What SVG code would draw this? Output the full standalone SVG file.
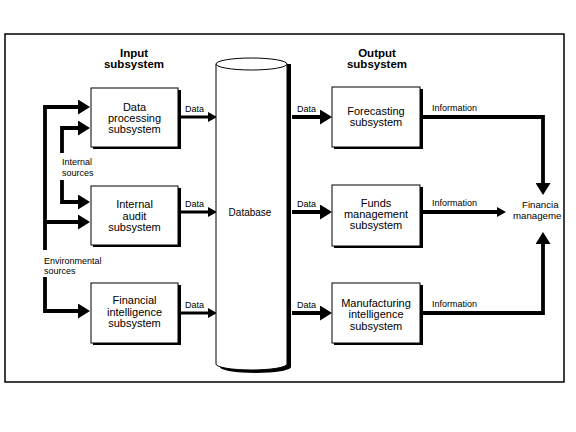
<svg xmlns="http://www.w3.org/2000/svg" width="576" height="432" viewBox="0 0 576 432">
<style>
text{font-family:"Liberation Sans",Arial,Helvetica,sans-serif;fill:#000}
.t{font-size:11px;text-anchor:middle}
.h{font-size:11.5px;font-weight:bold;text-anchor:middle}
.s{font-size:9px}
.ln{fill:none;stroke:#000;stroke-linejoin:miter}
.w3{stroke-width:3}
.w4{stroke-width:3.8}
.box{fill:#fff;stroke:#000;stroke-width:1}
.sh{fill:#000}
</style>
<defs>
<marker id="big" viewBox="0 0 12 15" refX="6" refY="7.5" markerWidth="12" markerHeight="15" markerUnits="userSpaceOnUse" orient="auto">
<path d="M0,0 L12,7.5 L0,15 Z" fill="#000"/>
</marker>
<marker id="small" viewBox="0 0 9 10" refX="4" refY="5" markerWidth="9" markerHeight="10" markerUnits="userSpaceOnUse" orient="auto">
<path d="M0,0 L9,5 L0,10 Z" fill="#000"/>
</marker>
</defs>
<rect width="576" height="432" fill="#fff"/>
<rect x="5" y="34" width="559" height="348" fill="none" stroke="#000" stroke-width="1.5"/>

<text class="h" x="134" y="57">Input</text>
<text class="h" x="134" y="68">subsystem</text>
<text class="h" x="377" y="57">Output</text>
<text class="h" x="377" y="68">subsystem</text>

<g id="connectors">
<path class="ln w4" d="M45,250 L45,107 L84,107" marker-end="url(#big)"/>
<path class="ln w4" d="M45,222 L84,222" marker-end="url(#big)"/>
<path class="ln w4" d="M45,277 L45,311 L84,311" marker-end="url(#big)"/>
<path class="ln w4" d="M62,153 L62,128 L84,128" marker-end="url(#big)"/>
<path class="ln w4" d="M62,180 L62,202 L84,202" marker-end="url(#big)"/>
<path class="ln w3" d="M179,117 L212,117" marker-end="url(#small)"/>
<path class="ln w3" d="M179,212 L212,212" marker-end="url(#small)"/>
<path class="ln w3" d="M179,313 L212,313" marker-end="url(#small)"/>
<path class="ln w4" d="M292,117 L326,117" marker-end="url(#big)"/>
<path class="ln w4" d="M292,212 L326,212" marker-end="url(#big)"/>
<path class="ln w4" d="M292,313 L326,313" marker-end="url(#big)"/>
<path class="ln w4" d="M421,117 L543,117 L543,189" marker-end="url(#big)"/>
<path class="ln w4" d="M421,212 L501,212" marker-end="url(#small)"/>
<path class="ln w4" d="M421,313 L543,313 L543,238" marker-end="url(#big)"/>
<text class="s" x="185" y="112">Data</text>
<text class="s" x="185" y="207">Data</text>
<text class="s" x="185" y="308">Data</text>
<text class="s" x="297" y="112">Data</text>
<text class="s" x="297" y="207">Data</text>
<text class="s" x="297" y="308">Data</text>
<text class="s" x="432" y="111">Information</text>
<text class="s" x="432" y="206">Information</text>
<text class="s" x="432" y="307">Information</text>
</g>

<g id="internal-sources">
<text class="s" x="62" y="165">Internal</text>
<text class="s" x="62" y="176">sources</text>
</g>
<g id="environmental-sources">
<text class="s" x="44" y="264">Environmental</text>
<text class="s" x="44" y="274">sources</text>
</g>

<g id="data-processing">
<rect class="sh" x="93" y="90" width="88" height="59"/>
<rect class="box" x="91" y="88" width="87" height="59"/>
<text class="t" x="134.5" y="111">Data</text>
<text class="t" x="134.5" y="122">processing</text>
<text class="t" x="134.5" y="133">subsystem</text>
</g>
<g id="internal-audit">
<rect class="sh" x="93" y="188" width="88" height="59"/>
<rect class="box" x="91" y="186" width="87" height="59"/>
<text class="t" x="134.5" y="208">Internal</text>
<text class="t" x="134.5" y="220">audit</text>
<text class="t" x="134.5" y="231">subsystem</text>
</g>
<g id="financial-intelligence">
<rect class="sh" x="93" y="285" width="88" height="60"/>
<rect class="box" x="91" y="283" width="87" height="60"/>
<text class="t" x="134.5" y="304">Financial</text>
<text class="t" x="134.5" y="316">intelligence</text>
<text class="t" x="134.5" y="327">subsystem</text>
</g>

<g id="database">
<path class="sh" d="M291,64 L291,367 A35.5,6 0 0 1 220,367 L220,64 Z"/>
<path d="M216,64 L216,364 A35.5,6 0 0 0 287,364 L287,64 Z" fill="#fff" stroke="#000" stroke-width="1"/>
<ellipse cx="251.5" cy="64" rx="35.5" ry="6" fill="#fff" stroke="#000" stroke-width="1"/>
<text x="250" y="216" style="font-size:10px;text-anchor:middle">Database</text>
</g>

<g id="forecasting">
<rect class="sh" x="334" y="89" width="89" height="60"/>
<rect class="box" x="332" y="87" width="88" height="60"/>
<text class="t" x="376" y="115">Forecasting</text>
<text class="t" x="376" y="126">subsystem</text>
</g>
<g id="funds-management">
<rect class="sh" x="334" y="187" width="89" height="61"/>
<rect class="box" x="332" y="185" width="88" height="61"/>
<text class="t" x="376" y="207">Funds</text>
<text class="t" x="376" y="218">management</text>
<text class="t" x="376" y="229">subsystem</text>
</g>
<g id="manufacturing-intelligence">
<rect class="sh" x="334" y="285" width="89" height="60"/>
<rect class="box" x="332" y="283" width="88" height="60"/>
<text class="t" x="376" y="307">Manufacturing</text>
<text class="t" x="376" y="318">intelligence</text>
<text class="t" x="376" y="330">subsystem</text>
</g>

<g id="financial-management">
<text x="522" y="208" style="font-size:9.7px">Financia</text>
<text x="513" y="219" style="font-size:9.7px">manageme</text>
</g>
</svg>
